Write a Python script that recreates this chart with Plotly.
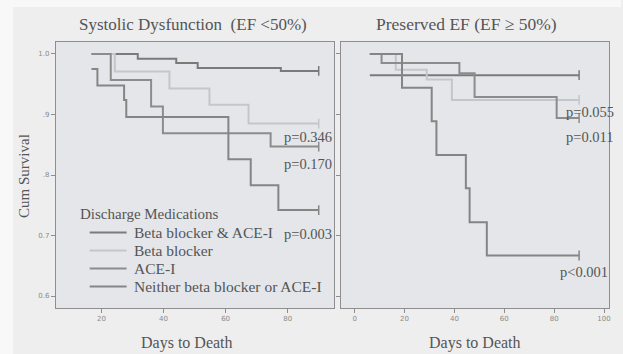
import plotly.graph_objects as go

# Kaplan-Meier step data (days to death, cumulative survival)
groups = ["Beta blocker & ACE-I", "Beta blocker", "ACE-I", "Neither beta blocker or ACE-I"]
colors = ["#7a7a7a", "#c4c6c9", "#8c8c8c", "#858585"]

# Systolic dysfunction (EF < 50%)
sd_bb_ace_t = [16.8, 31.7, 44.1, 51.0, 77.8, 90.0]
sd_bb_ace_s = [1.0, 0.992, 0.985, 0.977, 0.972, 0.972]
sd_bb_t = [16.8, 24.3, 41.9, 54.8, 67.4, 90.0]
sd_bb_s = [1.0, 0.971, 0.943, 0.916, 0.885, 0.885]
sd_ace_t = [16.8, 23.0, 36.0, 39.8, 74.5, 90.0]
sd_ace_s = [1.0, 0.957, 0.913, 0.869, 0.847, 0.847]
sd_none_t = [16.8, 18.7, 27.3, 28.0, 60.9, 68.1, 77.0, 90.0]
sd_none_s = [0.975, 0.948, 0.924, 0.896, 0.826, 0.783, 0.742, 0.742]

# Preserved EF (EF >= 50%)
pe_bb_ace_t = [6.1, 90.0]
pe_bb_ace_s = [0.965, 0.965]
pe_bb_t = [6.1, 16.5, 28.9, 39.0, 90.0]
pe_bb_s = [1.0, 0.974, 0.958, 0.924, 0.924]
pe_ace_t = [6.1, 10.8, 42.0, 48.1, 81.0, 90.0]
pe_ace_s = [1.0, 0.985, 0.968, 0.929, 0.894, 0.894]
pe_none_t = [6.1, 19.0, 30.9, 32.8, 44.6, 46.1, 53.0, 90.0]
pe_none_s = [1.0, 0.944, 0.889, 0.833, 0.778, 0.722, 0.667, 0.667]

# p-values vs. beta blocker & ACE-I
sd_pvals = ["p=0.346", "p=0.170", "p=0.003"]
sd_pval_y = [0.863, 0.819, 0.703]
pe_pvals = ["p=0.055", "p=0.011", "p<0.001"]
pe_pval_y = [0.904, 0.862, 0.640]

y_ticks = [0.6, 0.7, 0.8, 0.9, 1.0]
y_ticktext = ["0.6", "0.7", ".8", ".9", "1.0"]
sd_xticks = [20, 40, 60, 80]
pe_xticks = [0, 20, 40, 60, 80, 100]

SERIF = "Liberation Serif, Times New Roman, serif"
TXT = "#555555"
W, H = 623, 354


def px(xp):
    return xp / W


def py(yp):
    return 1 - yp / H


def label(x, y, text, size, xanchor="center", angle=0):
    fig.add_annotation(x=px(x), y=py(y), xref="paper", yref="paper", showarrow=False,
                       xanchor=xanchor, yanchor="middle", textangle=angle, text=text,
                       font=dict(family=SERIF, size=size, color=TXT))


fig = go.Figure()

sd = [(sd_bb_ace_t, sd_bb_ace_s), (sd_bb_t, sd_bb_s), (sd_ace_t, sd_ace_s), (sd_none_t, sd_none_s)]
pe = [(pe_bb_ace_t, pe_bb_ace_s), (pe_bb_t, pe_bb_s), (pe_ace_t, pe_ace_s), (pe_none_t, pe_none_s)]

for panel, (xa, ya) in zip([sd, pe], [("x", "y"), ("x2", "y2")]):
    for name, col, (t, s) in zip(groups, colors, panel):
        fig.add_trace(go.Scatter(
            x=t, y=s, mode="lines", line=dict(shape="hv", color=col, width=2),
            name=name, showlegend=False, xaxis=xa, yaxis=ya))
        # censor tick at the end of follow-up
        fig.add_trace(go.Scatter(
            x=[t[-1]], y=[s[-1]], mode="markers", showlegend=False,
            marker=dict(symbol="line-ns", size=7, line=dict(color=col, width=1.5)),
            xaxis=xa, yaxis=ya, hoverinfo="skip"))

for txt, yv in zip(sd_pvals, sd_pval_y):
    fig.add_annotation(x=78.2, y=yv, xref="x", yref="y", text=txt, showarrow=False,
                       xanchor="left", yanchor="middle", font=dict(family=SERIF, size=14.5, color=TXT))
for txt, yv, xv in zip(pe_pvals, pe_pval_y, [84.1, 84.1, 81.7]):
    fig.add_annotation(x=xv, y=yv, xref="x2", yref="y2", text=txt, showarrow=False,
                       xanchor="left", yanchor="middle", font=dict(family=SERIF, size=14.5, color=TXT))

# titles and axis labels
label(194, 24, "Systolic Dysfunction  (EF <50%)", 17)
label(468, 24, "Preserved EF (EF \u2265 50%)", 17.5)
label(188, 343, "Days to Death", 16)
label(477, 343, "Days to Death", 16)
label(24, 176, "Cum Survival", 15, angle=-90)

# legend block inside the left panel
label(78, 214, "Discharge Medications", 15, xanchor="left")
legend_rows = [232.5, 250.5, 268.5, 286.5]
shapes = [
    dict(type="rect", xref="paper", yref="paper", x0=0, x1=px(13), y0=0, y1=1,
         fillcolor="#f8f8f8", line=dict(width=0), layer="below"),
    dict(type="rect", xref="paper", yref="paper", x0=0, x1=1, y0=py(7), y1=1,
         fillcolor="#f8f8f8", line=dict(width=0), layer="below"),
]
for name, col, ry in zip(groups, colors, legend_rows):
    shapes.append(dict(type="line", xref="paper", yref="paper", x0=px(90), x1=px(127),
                       y0=py(ry), y1=py(ry), line=dict(color=col, width=2)))
    label(132, ry, name, 15.5, xanchor="left")

axis_common = dict(showgrid=False, zeroline=False, showline=True, mirror=True,
                   linecolor="#8e8e8e", linewidth=1, ticks="outside", ticklen=4,
                   tickcolor="#8e8e8e", tickfont=dict(family="DejaVu Sans", size=7, color="#8a8a8a"))

y_dom = [py(308), py(42)]
fig.update_layout(
    width=W, height=H, margin=dict(l=0, r=0, t=0, b=0),
    paper_bgcolor="#eeeeef", plot_bgcolor="#e4e6e9",
    showlegend=False,
    xaxis=dict(domain=[px(56), px(335)], range=[5.3, 94.9], tickvals=sd_xticks, anchor="y", **axis_common),
    yaxis=dict(domain=y_dom, range=[0.5802, 1.0198], tickvals=y_ticks, ticktext=y_ticktext,
               anchor="x", **axis_common),
    xaxis2=dict(domain=[px(342), px(611)], range=[-5.5, 102], tickvals=pe_xticks, anchor="y2", **axis_common),
    yaxis2=dict(domain=y_dom, range=[0.5802, 1.0198], tickvals=y_ticks, showticklabels=False,
                anchor="x2", **axis_common),
    shapes=shapes,
)

fig.write_html("out.html")
